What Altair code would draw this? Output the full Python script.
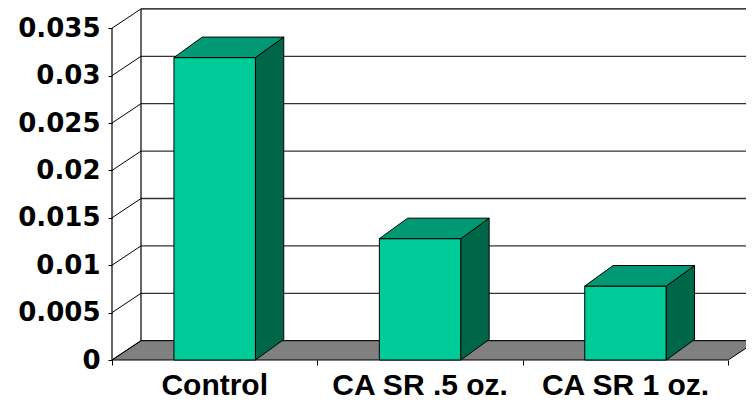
import altair as alt
import pandas as pd

# ---- data ----
categories = ["Control", "CA SR .5 oz.", "CA SR 1 oz."]
values = [0.0319, 0.0128, 0.0078]
y_ticks = [0, 0.005, 0.01, 0.015, 0.02, 0.025, 0.03, 0.035]
y_top = 0.035

# ---- layout / style parameters (pixels -> scale units) ----
PLOT_W, PLOT_H = 634, 352
BAND_PX = 205.4
PX_PER_VAL = 47.4 / 0.005
XMAX = PLOT_W / BAND_PX
YMAX = PLOT_H / PX_PER_VAL
BW = 81.5 / BAND_PX
DXW, DYW = 29 / BAND_PX, 19.3 / PX_PER_VAL      # wall depth
DXB, DYB = 28.3 / BAND_PX, 20.5 / PX_PER_VAL    # bar depth
NCAT = len(categories)

xs = alt.Scale(domain=[0, XMAX], nice=False, zero=False)
ys = alt.Scale(domain=[0, YMAX], nice=False, zero=False)

x_axis = alt.Axis(values=[0, 1, 2, 3], labels=False, ticks=True, tickSize=5,
                  tickColor="black", tickWidth=1, domain=False, grid=False,
                  title=None)
y_axis = alt.Axis(values=y_ticks, format="~f", labelFont="DejaVu Sans",
                  labelFontWeight="bold", labelFontSize=26, labelColor="black",
                  tickSize=4, tickColor="black", tickWidth=1, labelPadding=8,
                  domain=False, grid=False, title=None)


def X(f):
    return alt.X(f, type="quantitative", scale=xs, axis=x_axis)


def Y(f):
    return alt.Y(f, type="quantitative", scale=ys, axis=y_axis)


# back wall grid lines
grid = pd.DataFrame({"x": [DXW] * len(y_ticks), "x2": [XMAX] * len(y_ticks),
                     "y": [v + DYW for v in y_ticks],
                     "top": [v == y_top for v in y_ticks]})
grid_layer = alt.Chart(grid).mark_rule(strokeWidth=1.3).encode(
    x=X("x"), x2="x2", y=Y("y"),
    color=alt.condition("datum.top", alt.value("black"), alt.value("#333333")))

# floor
floor = pd.DataFrame({"y": [0, DYW], "x": [0, DXW], "x2": [NCAT, NCAT + DXW]})
floor_layer = alt.Chart(floor).mark_area(
    orient="horizontal", color="#808080", stroke="black", strokeWidth=1, opacity=1
).encode(y=Y("y"), x=X("x"), x2="x2")

# left side wall lines
side = pd.DataFrame({"x": [0] * len(y_ticks), "x2": [DXW] * len(y_ticks),
                     "y": y_ticks, "y2": [v + DYW for v in y_ticks]})
side_layer = alt.Chart(side).mark_rule(color="black", strokeWidth=1).encode(
    x=X("x"), x2="x2", y=Y("y"), y2="y2")

# front axis line and back wall left edge
edges = pd.DataFrame({"x": [0, DXW], "y": [0, DYW], "y2": [y_top, y_top + DYW]})
edge_layer = alt.Chart(edges).mark_rule(color="black", strokeWidth=1.2).encode(
    x=X("x"), y=Y("y"), y2="y2")

# bars: front faces
front = pd.DataFrame({"cat": categories, "v": values,
                      "xl": [i + 0.5 - BW / 2 for i in range(NCAT)],
                      "xr": [i + 0.5 + BW / 2 for i in range(NCAT)],
                      "y0": [0.0] * NCAT})
front_layer = alt.Chart(front).mark_rect(
    fill="#00CC99", stroke="black", strokeWidth=1
).encode(x=X("xl"), x2="xr", y=Y("y0"), y2="v")

# side and top faces
side_rows, top_rows = [], []
for i, (c, v) in enumerate(zip(categories, values)):
    xl, xr = i + 0.5 - BW / 2, i + 0.5 + BW / 2
    side_rows += [{"cat": c, "x": xr, "y": v, "y2": 0.0},
                  {"cat": c, "x": xr + DXB, "y": v + DYB, "y2": DYB}]
    top_rows += [{"cat": c, "y": v, "x": xl, "x2": xr},
                 {"cat": c, "y": v + DYB, "x": xl + DXB, "x2": xr + DXB}]

sidef_layer = alt.Chart(pd.DataFrame(side_rows)).mark_area(
    color="#006648", stroke="black", strokeWidth=1, opacity=1
).encode(x=X("x"), y=Y("y"), y2="y2", detail="cat:N")

topf_layer = alt.Chart(pd.DataFrame(top_rows)).mark_area(
    orient="horizontal", color="#009973", stroke="black", strokeWidth=1, opacity=1
).encode(y=Y("y"), x=X("x"), x2="x2", detail="cat:N")

# category labels
labels = pd.DataFrame({"cat": categories, "x": [i + 0.5 for i in range(NCAT)],
                       "y": [0.0] * NCAT})
label_layer = alt.Chart(labels).mark_text(
    font="Liberation Sans", fontWeight="bold", fontSize=30, color="black",
    baseline="alphabetic", align="center", dy=35
).encode(x=X("x"), y=Y("y"), text="cat:N")

chart = alt.layer(
    grid_layer, floor_layer, side_layer, edge_layer,
    front_layer, sidef_layer, topf_layer, label_layer
).properties(
    width=PLOT_W, height=PLOT_H,
    autosize=alt.AutoSizeParams(type="none"),
    padding={"left": 104, "top": 0, "right": 0, "bottom": 37},
    background="white",
).configure_view(stroke=None)

chart.save("out.html", embed_options={"renderer": "svg", "actions": False})
